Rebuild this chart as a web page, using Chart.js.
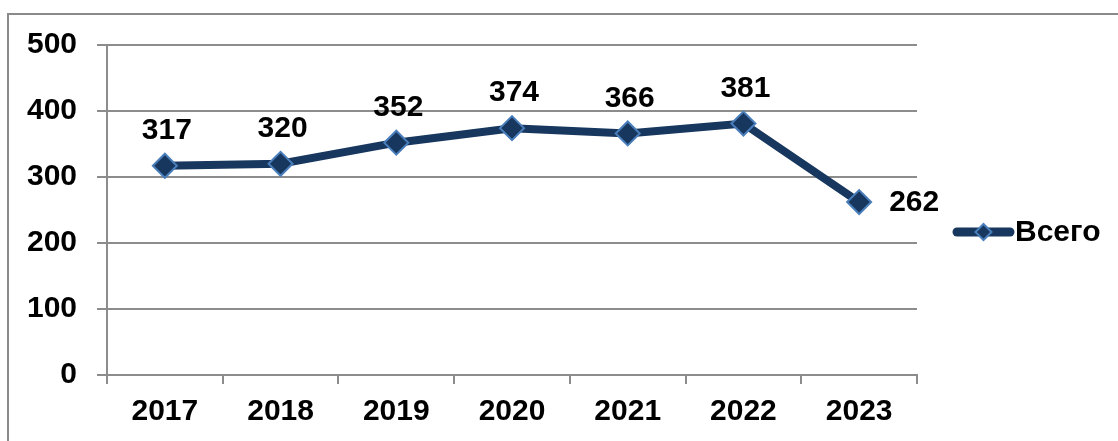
<!DOCTYPE html>
<html>
<head>
<meta charset="utf-8">
<script src="https://cdn.jsdelivr.net/npm/chart.js@4.4.1/dist/chart.umd.min.js"></script>
<style>
html,body{margin:0;padding:0;background:#fff;overflow:hidden;width:1118px;height:441px;}
#wrap{position:absolute;left:0;top:0;width:1118px;height:441px;}
#frame{position:absolute;left:7px;top:13px;width:1200px;height:500px;border-left:2px solid #8a8a8a;border-top:2px solid #8a8a8a;pointer-events:none;}
</style>
</head>
<body>
<div id="wrap"><canvas id="c" width="1118" height="441"></canvas></div>
<div id="frame"></div>
<script>
const categories = ['2017','2018','2019','2020','2021','2022','2023'];
const seriesName = 'Всего';
const values = [317, 320, 352, 374, 366, 381, 262];
const yTicks = [0, 100, 200, 300, 400, 500];

const FONT = "Arial, 'Liberation Sans', sans-serif";
const LINE = '#17375E';
const EDGE = '#4A7EBB';
const GRID = '#8C8C8C';

const labelPlugin = {
  id: 'valueLabels',
  afterDatasetsDraw(chart) {
    const ctx = chart.ctx;
    const meta = chart.getDatasetMeta(0);
    ctx.save();
    ctx.font = 'bold 30px ' + FONT;
    ctx.fillStyle = '#000';
    ctx.textBaseline = 'middle';
    meta.data.forEach((pt, i) => {
      const v = chart.data.datasets[0].data[i];
      if (i === meta.data.length - 1) {
        ctx.textAlign = 'left';
        ctx.fillText(String(v), pt.x + 30, pt.y + 1);
      } else {
        ctx.textAlign = 'center';
        ctx.fillText(String(v), pt.x + 2, pt.y - 35);
      }
    });
    ctx.restore();
  }
};

const legendPlugin = {
  id: 'customLegend',
  afterDraw(chart) {
    const ctx = chart.ctx;
    const ds = chart.data.datasets[0];
    const y = 232, x0 = 957, x1 = 1010;
    ctx.save();
    ctx.strokeStyle = ds.borderColor;
    ctx.lineWidth = 9;
    ctx.lineCap = 'round';
    ctx.beginPath(); ctx.moveTo(x0, y); ctx.lineTo(x1, y); ctx.stroke();
    const cx = (x0 + x1) / 2, r = 8;
    ctx.beginPath();
    ctx.moveTo(cx, y - r); ctx.lineTo(cx + r, y); ctx.lineTo(cx, y + r); ctx.lineTo(cx - r, y); ctx.closePath();
    ctx.fillStyle = ds.pointBackgroundColor; ctx.fill();
    ctx.lineWidth = 2; ctx.strokeStyle = ds.pointBorderColor; ctx.stroke();
    ctx.font = 'bold 30px ' + FONT;
    ctx.fillStyle = '#000';
    ctx.textAlign = 'left';
    ctx.textBaseline = 'middle';
    ctx.fillText(ds.label, 1015, y + 1);
    ctx.restore();
  }
};

new Chart(document.getElementById('c'), {
  type: 'line',
  data: {
    labels: categories,
    datasets: [{
      label: seriesName,
      data: values,
      borderColor: LINE,
      borderWidth: 8,
      tension: 0,
      pointStyle: 'rectRot',
      pointRadius: 12,
      pointHoverRadius: 12,
      pointBackgroundColor: LINE,
      pointBorderColor: EDGE,
      pointBorderWidth: 2
    }]
  },
  options: {
    responsive: false,
    animation: false,
    events: [],
    layout: { padding: { left: 7, right: 201, top: 45, bottom: 0 } },
    plugins: { legend: { display: false }, tooltip: { enabled: false } },
    scales: {
      x: {
        type: 'category',
        offset: true,
        grid: { offset: true, drawOnChartArea: false, drawTicks: true, tickLength: 9, color: GRID, lineWidth: 2 },
        border: { display: true, color: GRID, width: 2 },
        ticks: { font: { family: FONT, size: 30, weight: 'bold' }, color: '#000', padding: 10, maxRotation: 0 },
        afterFit(s) { s.height = 66; }
      },
      y: {
        min: 0, max: 500,
        afterBuildTicks(s) { s.ticks = yTicks.map(v => ({ value: v })); },
        grid: { color: GRID, lineWidth: 2, tickLength: 10, drawTicks: true },
        border: { display: true, color: GRID, width: 2 },
        ticks: { font: { family: FONT, size: 30, weight: 'bold' }, color: '#000', padding: 20 },
        afterFit(s) { s.width = 100; }
      }
    }
  },
  plugins: [labelPlugin, legendPlugin]
});
</script>
</body>
</html>
